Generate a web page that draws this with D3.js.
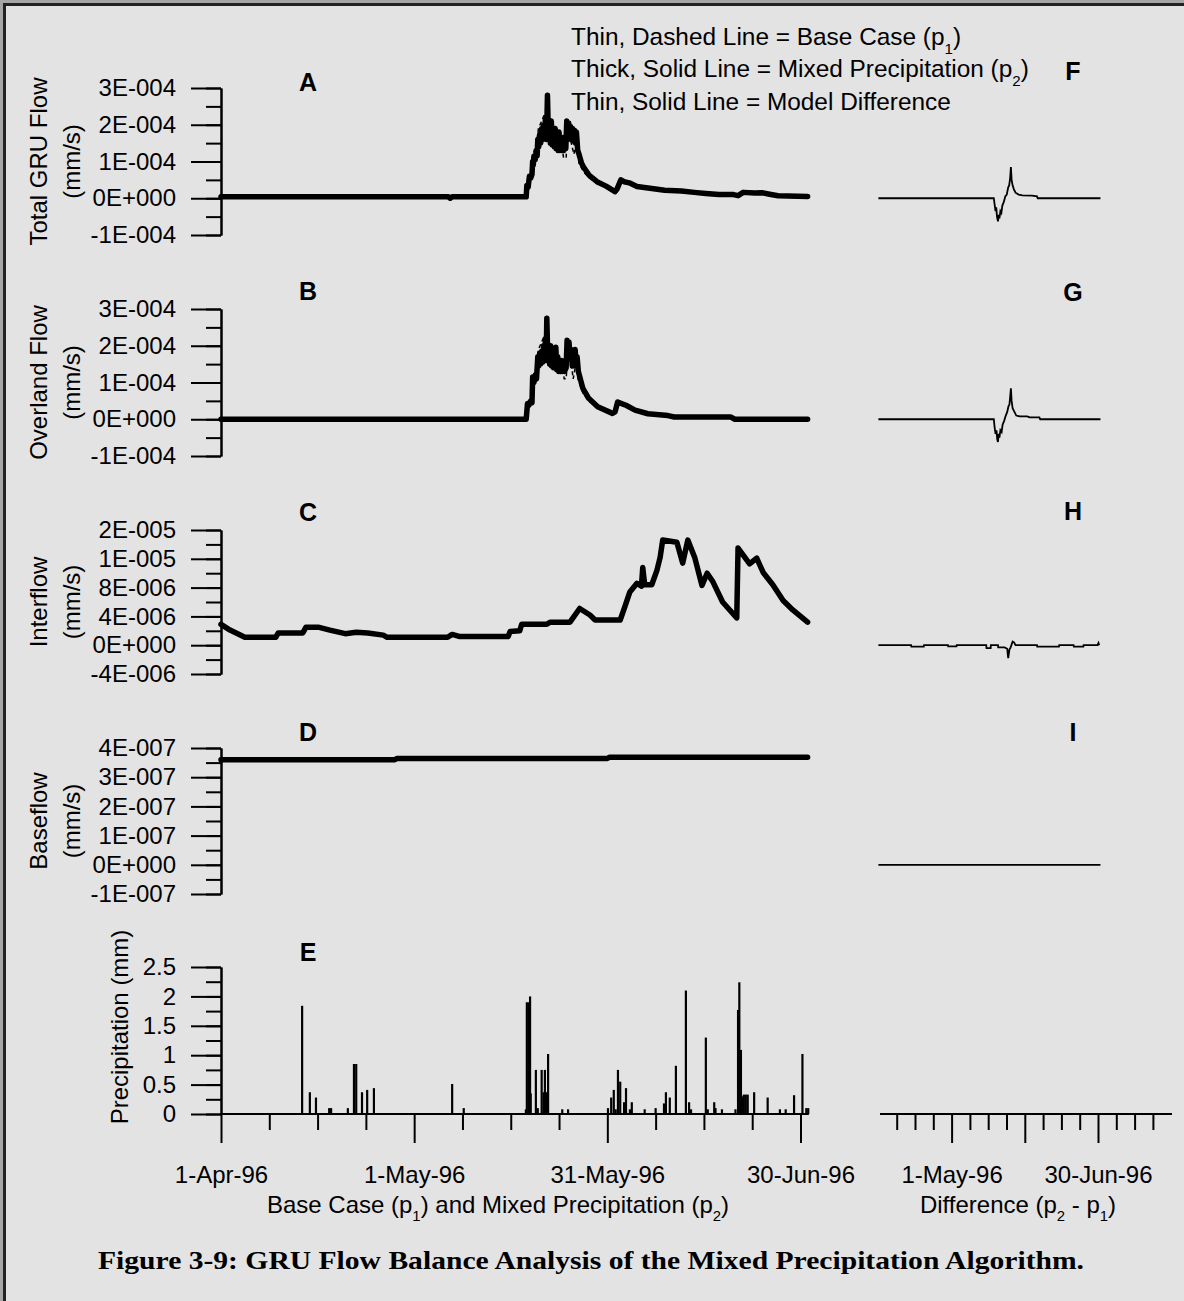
<!DOCTYPE html>
<html>
<head>
<meta charset="utf-8">
<script src="https://cdn.jsdelivr.net/npm/d3@7"></script>
<style>
  html, body { margin: 0; padding: 0; background: #e3e3e3; }
  svg { display: block; }
  text { fill: #000; }
</style>
</head>
<body>
<svg id="chart" width="1184" height="1301"></svg>
<script>
// ---- Series: [day since 1-Apr-96, value] ----
// Total GRU flow (mm/s)
const totalFlowMixed = [[0,0.04e-4],[35.3,0.04e-4],[35.6,0.0],[35.9,0.04e-4],[47.4,0.04e-4],[47.5,0.35e-4],[47.7,0.3e-4],[47.9,0.6e-4],[48.1,0.55e-4],[48.3,0.65e-4],[48.4,1.0e-4],[48.5,0.9e-4],[48.6,1.15e-4],[48.8,1.05e-4],[49.0,1.3e-4],[49.1,1.15e-4],[49.2,1.6e-4],[49.35,1.4e-4],[49.5,1.75e-4],[49.65,1.5e-4],[49.8,1.9e-4],[49.95,1.6e-4],[50.1,2.0e-4],[50.25,1.7e-4],[50.4,2.2e-4],[50.55,1.6e-4],[50.7,2.8e-4],[50.85,1.7e-4],[51.0,2.0e-4],[51.15,1.5e-4],[51.3,2.1e-4],[51.45,1.45e-4],[51.6,1.8e-4],[51.75,1.4e-4],[51.9,1.9e-4],[52.05,1.35e-4],[52.2,1.7e-4],[52.35,1.3e-4],[52.5,1.8e-4],[52.65,1.3e-4],[52.8,1.6e-4],[52.95,1.3e-4],[53.1,1.65e-4],[53.25,1.3e-4],[53.4,1.5e-4],[53.55,1.35e-4],[53.7,2.1e-4],[53.85,1.6e-4],[54.0,2.05e-4],[54.15,1.7e-4],[54.3,1.95e-4],[54.45,1.6e-4],[54.6,1.9e-4],[54.75,1.55e-4],[54.9,1.85e-4],[55.05,1.5e-4],[55.2,1.8e-4],[55.4,1.3e-4],[55.6,1.2e-4],[56.0,0.95e-4],[56.3,0.85e-4],[57.2,0.62e-4],[58.4,0.45e-4],[59.8,0.33e-4],[61.2,0.18e-4],[61.5,0.25e-4],[62.1,0.5e-4],[62.6,0.45e-4],[63.4,0.42e-4],[64.6,0.32e-4],[66.6,0.27e-4],[68.9,0.22e-4],[71.5,0.2e-4],[73.5,0.16e-4],[75.3,0.13e-4],[77.3,0.1e-4],[79.6,0.1e-4],[80.3,0.07e-4],[81.1,0.16e-4],[82.9,0.14e-4],[84,0.15e-4],[85.2,0.11e-4],[86.5,0.07e-4],[91.1,0.05e-4]];
const totalFlowBase = [[0,0.04e-4],[47.4,0.04e-4],[47.5,0.2e-4],[47.9,0.5e-4],[48.3,0.9e-4],[48.5,1.2e-4],[49.1,1.6e-4],[49.3,1.9e-4],[49.8,2.1e-4],[50.3,2.3e-4],[50.5,2.0e-4],[50.7,2.75e-4],[50.9,2.0e-4],[51.2,2.1e-4],[51.5,1.7e-4],[51.9,1.9e-4],[52.3,1.5e-4],[52.8,1.6e-4],[53.2,1.1e-4],[53.6,1.1e-4],[53.8,1.8e-4],[54.4,1.5e-4],[54.8,1.2e-4],[55.2,1.5e-4],[55.6,0.95e-4],[56.3,0.72e-4],[57.2,0.55e-4],[58.4,0.4e-4],[59.8,0.3e-4],[61.2,0.15e-4],[61.5,0.22e-4],[62.1,0.45e-4],[62.6,0.42e-4],[63.4,0.4e-4],[64.6,0.3e-4],[66.6,0.26e-4],[68.9,0.22e-4],[71.5,0.2e-4],[73.5,0.16e-4],[75.3,0.13e-4],[77.3,0.1e-4],[79.6,0.1e-4],[80.3,0.07e-4],[81.1,0.16e-4],[82.9,0.14e-4],[84,0.15e-4],[85.2,0.11e-4],[86.5,0.07e-4],[91.1,0.05e-4]];
const totalFlowDiff = [[0,0],[47.3,0],[47.6,-0.15e-4],[48.0,-0.35e-4],[48.3,-0.25e-4],[48.6,-0.5e-4],[49.0,-0.63e-4],[49.3,-0.45e-4],[49.6,-0.55e-4],[50.0,-0.35e-4],[50.4,-0.4e-4],[50.8,-0.2e-4],[51.4,-0.1e-4],[52.0,0.05e-4],[52.6,0.1e-4],[53.2,0.3e-4],[53.6,0.35e-4],[54.0,0.55e-4],[54.3,0.85e-4],[54.6,0.5e-4],[55.0,0.35e-4],[55.5,0.25e-4],[56.2,0.15e-4],[57.5,0.1e-4],[59,0.08e-4],[63,0.07e-4],[65,0.05e-4],[65.3,0],[91,0]];

// Overland flow (mm/s)
const overlandMixed = [[0,0],[47.4,0],[47.6,0.43e-4],[47.8,0.38e-4],[48.1,0.5e-4],[48.3,0.45e-4],[48.4,1.15e-4],[48.6,1.0e-4],[48.8,1.2e-4],[49.0,1.1e-4],[49.2,1.7e-4],[49.35,1.45e-4],[49.5,1.8e-4],[49.65,1.5e-4],[49.8,1.85e-4],[49.95,1.55e-4],[50.1,2.0e-4],[50.25,1.7e-4],[50.4,2.2e-4],[50.5,1.6e-4],[50.6,2.75e-4],[50.75,1.7e-4],[50.9,1.95e-4],[51.05,1.5e-4],[51.2,2.0e-4],[51.35,1.45e-4],[51.5,1.8e-4],[51.65,1.4e-4],[51.8,1.7e-4],[52.0,1.96e-4],[52.15,1.35e-4],[52.3,1.7e-4],[52.45,1.3e-4],[52.6,1.6e-4],[52.75,1.3e-4],[52.9,1.6e-4],[53.05,1.3e-4],[53.2,1.5e-4],[53.35,1.3e-4],[53.6,1.4e-4],[53.75,2.15e-4],[53.9,1.7e-4],[54.05,2.1e-4],[54.2,1.7e-4],[54.4,1.9e-4],[54.55,1.45e-4],[54.7,1.85e-4],[54.85,1.45e-4],[55.0,1.9e-4],[55.15,1.45e-4],[55.3,1.7e-4],[55.5,1.3e-4],[56.2,0.84e-4],[57.1,0.57e-4],[58.5,0.34e-4],[60.8,0.16e-4],[61.2,0.2e-4],[61.6,0.47e-4],[62.3,0.42e-4],[62.9,0.38e-4],[64.3,0.25e-4],[66.3,0.15e-4],[69.4,0.1e-4],[70.4,0.06e-4],[79.2,0.06e-4],[79.8,0],[91.1,0]];
const overlandBase = [[0,0],[47.4,0],[47.6,0.25e-4],[48.1,0.45e-4],[48.4,0.9e-4],[49.1,1.5e-4],[49.3,1.9e-4],[49.8,2.1e-4],[50.3,2.3e-4],[50.5,2.0e-4],[50.6,2.7e-4],[50.9,1.9e-4],[51.2,2.0e-4],[51.6,1.6e-4],[52.0,1.9e-4],[52.4,1.3e-4],[53.0,1.5e-4],[53.3,1.1e-4],[53.6,1.1e-4],[53.9,1.8e-4],[54.4,1.5e-4],[54.7,1.1e-4],[55.1,1.5e-4],[55.5,1.05e-4],[56.2,0.72e-4],[57.1,0.5e-4],[58.5,0.3e-4],[60.8,0.15e-4],[61.2,0.18e-4],[61.6,0.43e-4],[62.3,0.4e-4],[62.9,0.36e-4],[64.3,0.24e-4],[66.3,0.15e-4],[69.4,0.1e-4],[70.4,0.06e-4],[79.2,0.06e-4],[79.8,0],[91.1,0]];
const overlandDiff = [[0,0],[47.3,0],[47.6,-0.2e-4],[48.0,-0.4e-4],[48.4,-0.3e-4],[48.7,-0.55e-4],[49.0,-0.62e-4],[49.3,-0.4e-4],[49.6,-0.5e-4],[50.0,-0.3e-4],[50.5,-0.35e-4],[50.9,-0.15e-4],[51.5,-0.05e-4],[52.2,0.1e-4],[52.8,0.2e-4],[53.3,0.35e-4],[53.7,0.4e-4],[54.0,0.6e-4],[54.3,0.84e-4],[54.6,0.5e-4],[55.0,0.3e-4],[55.6,0.22e-4],[56.5,0.1e-4],[58,0.08e-4],[61,0.08e-4],[62,0.05e-4],[66,0.05e-4],[66.3,0],[91,0]];

// Interflow (mm/s)
const interflowMixed = [[0,2.9e-6],[1.4,2.1e-6],[3.7,1.1e-6],[8.5,1.1e-6],[8.9,1.7e-6],[12.7,1.7e-6],[13.2,2.5e-6],[15.1,2.5e-6],[16.9,2.1e-6],[19.3,1.6e-6],[21,1.8e-6],[22.8,1.7e-6],[25.2,1.4e-6],[25.8,1.1e-6],[35.2,1.1e-6],[35.9,1.5e-6],[37.1,1.2e-6],[44.6,1.2e-6],[44.9,1.9e-6],[46.4,2.0e-6],[46.7,2.9e-6],[50.6,2.9e-6],[51.1,3.2e-6],[54.2,3.2e-6],[55.7,5.1e-6],[57.3,4.2e-6],[58.1,3.5e-6],[62,3.5e-6],[62.7,5.3e-6],[63.5,7.4e-6],[64.6,8.6e-6],[65.3,8.2e-6],[65.5,10.8e-6],[65.8,8.4e-6],[66.9,8.4e-6],[67.7,10.4e-6],[68.2,12.2e-6],[68.6,14.6e-6],[70.8,14.3e-6],[71.7,11.4e-6],[72.5,14.6e-6],[73.6,12.1e-6],[74.7,8.3e-6],[75.5,10.0e-6],[76.4,8.8e-6],[77.9,6.0e-6],[80.1,3.8e-6],[80.3,13.5e-6],[81.1,12.5e-6],[82.1,11.3e-6],[83.2,12.1e-6],[84.2,10.1e-6],[85.7,8.4e-6],[87.3,6.2e-6],[88.8,4.9e-6],[91.1,3.2e-6]];
const interflowBase = [[0,2.9e-6],[1.4,2.1e-6],[3.7,1.1e-6],[8.5,1.1e-6],[8.9,1.7e-6],[12.7,1.7e-6],[13.2,2.6e-6],[15.1,2.6e-6],[16.9,2.1e-6],[19.3,1.6e-6],[21,1.8e-6],[22.8,1.7e-6],[25.2,1.4e-6],[25.8,1.1e-6],[35.2,1.1e-6],[35.9,1.5e-6],[37.1,1.2e-6],[44.6,1.2e-6],[44.9,2.1e-6],[46.4,2.2e-6],[46.7,2.9e-6],[50.6,2.9e-6],[51.1,3.3e-6],[54.2,3.3e-6],[55.7,5.0e-6],[57.3,4.2e-6],[58.1,3.5e-6],[62,3.5e-6],[62.7,5.3e-6],[63.5,7.4e-6],[64.6,8.6e-6],[65.3,8.2e-6],[65.5,10.8e-6],[65.8,8.4e-6],[66.9,8.4e-6],[67.7,10.4e-6],[68.2,12.2e-6],[68.6,14.6e-6],[70.8,14.3e-6],[71.7,11.4e-6],[72.5,14.6e-6],[73.6,12.1e-6],[74.7,8.3e-6],[75.5,10.0e-6],[76.4,8.8e-6],[77.9,6.0e-6],[80.1,3.8e-6],[80.3,13.5e-6],[81.1,12.5e-6],[82.1,11.3e-6],[83.2,12.1e-6],[84.2,10.1e-6],[85.7,8.4e-6],[87.3,6.2e-6],[88.8,4.9e-6],[91.1,3.2e-6]];
const interflowDiff = [[0,0],[13.4,0],[13.5,-0.2e-6],[18.6,-0.2e-6],[18.7,0],[28.5,0],[28.6,-0.15e-6],[32,-0.15e-6],[32.1,0],[44.2,0],[44.3,-0.4e-6],[46,-0.4e-6],[46.1,0],[49,0],[49.1,-0.3e-6],[51.7,-0.3e-6],[52.8,-0.5e-6],[53.2,-1.8e-6],[53.7,-0.6e-6],[54.2,-0.3e-6],[55.0,0.5e-6],[55.6,0.4e-6],[56.2,0],[65,0],[65.1,-0.2e-6],[74,-0.2e-6],[74.1,0],[80,0],[80.1,-0.2e-6],[84,-0.2e-6],[84.1,0],[89.8,0],[90.2,0.3e-6],[90.5,0]];

// Baseflow (mm/s)
const baseflowMixed = [[0,3.6e-7],[27,3.6e-7],[27.3,3.64e-7],[60,3.64e-7],[60.3,3.68e-7],[91.1,3.68e-7]];
const baseflowBase = [[0,3.6e-7],[27,3.6e-7],[27.3,3.64e-7],[60,3.64e-7],[60.3,3.68e-7],[91.1,3.68e-7]];
const baseflowDiff = [[0,0],[91,0]];

// Precipitation (mm)
const precipitation = [[12.6,1.84],[13.8,0.37],[14.75,0.28],[16.8,0.1],[17.1,0.1],[19.7,0.1],[20.65,0.85],[21.0,0.85],[21.9,0.37],[22.7,0.41],[23.75,0.44],[35.9,0.51],[37.7,0.1],[47.35,0.08],[47.5,1.9],[47.8,1.9],[48.0,2.0],[48.1,0.35],[48.9,0.75],[49.2,0.1],[49.8,0.75],[50.1,0.37],[50.3,0.75],[50.5,0.37],[50.8,1.02],[53.0,0.08],[53.9,0.08],[60.1,0.1],[60.6,0.28],[61.0,0.41],[61.3,0.08],[61.65,0.75],[62.0,0.55],[62.6,0.2],[62.9,0.44],[63.5,0.08],[63.8,0.2],[65.8,0.08],[67.5,0.1],[68.8,0.18],[69.1,0.37],[69.7,0.28],[70.65,0.82],[72.2,2.1],[72.7,0.2],[73.0,0.08],[75.3,1.3],[75.6,0.08],[76.6,0.2],[76.8,0.1],[77.8,0.08],[79.9,0.08],[80.3,1.77],[80.5,2.24],[80.75,1.09],[81.0,0.3],[81.2,0.33],[81.5,0.33],[81.8,0.33],[82.8,0.37],[84.9,0.28],[86.8,0.08],[87.7,0.08],[89.0,0.32],[90.3,1.02],[90.9,0.1],[91.2,0.1]];

// ---- Axis ticks ----
const flowTicks = [-1e-4, 0, 1e-4, 2e-4, 3e-4];
const interflowTicks = [-4e-6, 0, 4e-6, 8e-6, 1.2e-5, 1.6e-5];
const baseflowTicks = [-1e-7, 0, 1e-7, 2e-7, 3e-7, 4e-7];
const precipTicks = [0, 0.5, 1, 1.5, 2, 2.5];
const dateMajorDays = [0, 30, 60, 90];
const dateMinorStep = 7.5;
const diffLabelDays = [30, 90];
const panelLetters = ["A", "B", "C", "D", "E", "F", "G", "H", "I"];

// ---- Layout ----
const SANS = "'Liberation Sans', Arial, Helvetica, sans-serif";
const SERIF = "'Liberation Serif', 'Times New Roman', Times, serif";
const FS = 24;            // general label size
const svg = d3.select("#chart").style("font-family", SANS);
const W = 1184, H = 1301;
svg.append("rect").attr("width", W).attr("height", H).attr("fill", "#e3e3e3");
// page frame (top and left edges)
svg.append("rect").attr("x", 0).attr("y", 0).attr("width", W).attr("height", 3).attr("fill", "#a6a6a6");
svg.append("rect").attr("x", 0).attr("y", 0).attr("width", 3).attr("height", H).attr("fill", "#a6a6a6");
svg.append("rect").attr("x", 3).attr("y", 3).attr("width", W - 3).attr("height", 3).attr("fill", "#222");
svg.append("rect").attr("x", 3).attr("y", 3).attr("width", 3).attr("height", H - 3).attr("fill", "#222");

const start = Date.UTC(1996, 3, 1);
const fmtDate = d3.utcFormat("%-d-%b-%y");
const dayLabel = d => fmtDate(new Date(start + d * 864e5));

const xMain = d3.scaleLinear().domain([0, 90]).range([221, 800.5]);
const xDiff = d3.scaleLinear().domain([0, 90]).range([878.4, 1098]);

function sci(v) {
  if (Math.abs(v) < 1e-15) return "0E+000";
  let e = Math.floor(Math.log10(Math.abs(v)) + 1e-9);
  let m = Math.round(v / Math.pow(10, e));
  if (Math.abs(m) >= 10) { m = m / 10; e += 1; }
  const sign = e < 0 ? "-" : "+";
  return m + "E" + sign + String(Math.abs(e)).padStart(3, "0");
}

const panels = [
  { titles: ["Total GRU Flow", "(mm/s)"], ticks: flowTicks, minor: 0.5e-4, top: 88, bottom: 235,
    mixed: totalFlowMixed, base: totalFlowBase, diff: totalFlowDiff, fmt: sci },
  { titles: ["Overland Flow", "(mm/s)"], ticks: flowTicks, minor: 0.5e-4, top: 309, bottom: 456,
    mixed: overlandMixed, base: overlandBase, diff: overlandDiff, fmt: sci },
  { titles: ["Interflow", "(mm/s)"], ticks: interflowTicks, minor: 2e-6, top: 530, bottom: 674,
    mixed: interflowMixed, base: interflowBase, diff: interflowDiff, fmt: sci },
  { titles: ["Baseflow", "(mm/s)"], ticks: baseflowTicks, minor: 0.5e-7, top: 748, bottom: 894,
    mixed: baseflowMixed, base: baseflowBase, diff: baseflowDiff, fmt: sci }
];

// letter baselines
const letterY = [91, 300, 521, 741, 961];
const rightLetterY = [80, 301, 520, 741];

function minorValues(ticks, step) {
  const lo = ticks[0], hi = ticks[ticks.length - 1];
  const out = [];
  for (let v = lo; v <= hi + step / 2; v += step) out.push(+v.toPrecision(6));
  return out;
}

function styleAxis(g, fontSize) {
  g.selectAll("path, line").attr("stroke", "#000").attr("stroke-width", 2);
  g.selectAll("text").attr("font-size", fontSize).attr("fill", "#000").attr("font-family", null);
}

function yTitle(lines, cx, cy, sz) {
  const g = svg.append("g");
  lines.forEach((t, i) => {
    g.append("text")
      .attr("transform", `translate(${cx[i]},${cy}) rotate(-90)`)
      .attr("text-anchor", "middle").attr("dominant-baseline", "central")
      .attr("font-size", sz).text(t);
  });
}

function letter(x, y, t) {
  svg.append("text").attr("x", x).attr("y", y).attr("text-anchor", "middle")
    .attr("font-weight", "bold").attr("font-size", 25).text(t);
}

function yAxes(y, ticks, minorStep, fmt) {
  svg.append("g").attr("transform", "translate(221,0)")
    .call(d3.axisLeft(y).tickValues(minorValues(ticks, minorStep)).tickSize(15).tickSizeOuter(0).tickFormat(""))
    .call(g => styleAxis(g, FS));
  svg.append("g").attr("transform", "translate(221,0)")
    .call(d3.axisLeft(y).tickValues(ticks).tickSize(30).tickSizeOuter(0).tickPadding(15).tickFormat(fmt))
    .call(g => styleAxis(g, FS));
}

const lineGen = (x, y) => d3.line().x(d => x(d[0])).y(d => y(d[1]));

panels.forEach((p, i) => {
  const y = d3.scaleLinear().domain([p.ticks[0], p.ticks[p.ticks.length - 1]]).range([p.bottom, p.top]);
  yAxes(y, p.ticks, p.minor, p.fmt);
  yTitle(p.titles, [38, 71], (p.top + p.bottom) / 2, FS);

  // base case: thin dashed
  svg.append("path").datum(p.base).attr("d", lineGen(xMain, y))
    .attr("fill", "none").attr("stroke", "#000").attr("stroke-width", 1.5).attr("stroke-dasharray", "4,3");
  // mixed precipitation: thick solid
  svg.append("path").datum(p.mixed).attr("d", lineGen(xMain, y))
    .attr("fill", "none").attr("stroke", "#000").attr("stroke-width", 5.5)
    .attr("stroke-linejoin", "round").attr("stroke-linecap", "round");
  // model difference: thin solid
  svg.append("path").datum(p.diff).attr("d", lineGen(xDiff, y))
    .attr("fill", "none").attr("stroke", "#000").attr("stroke-width", 1.8);

  letter(308, letterY[i], panelLetters[i]);
  letter(1073, rightLetterY[i], panelLetters[i + 5]);
});

// ---- Panel E: precipitation ----
const yP = d3.scaleLinear().domain([0, 2.5]).range([1114, 967]);
yAxes(yP, precipTicks, 0.25, d3.format(""));
yTitle(["Precipitation (mm)"], [119], 1027, FS);
letter(308, letterY[4], panelLetters[4]);

svg.append("g").selectAll("line").data(precipitation).join("line")
  .attr("x1", d => xMain(d[0])).attr("x2", d => xMain(d[0]))
  .attr("y1", yP(0)).attr("y2", d => yP(d[1]))
  .attr("stroke", "#000").attr("stroke-width", 2.2);

// main date axis
const mainMinor = d3.range(0, 90 + 0.01, dateMinorStep).filter(d => !dateMajorDays.includes(d));
const xAxisMain = svg.append("g").attr("transform", "translate(0,1114)");
xAxisMain.append("line").attr("x1", 221).attr("x2", xMain(91.3)).attr("y1", 0).attr("y2", 0)
  .attr("stroke", "#000").attr("stroke-width", 2);
xAxisMain.append("g")
  .call(d3.axisBottom(xMain).tickValues(mainMinor).tickSize(16).tickSizeOuter(0).tickFormat(""))
  .call(g => { g.select(".domain").remove(); styleAxis(g, FS); });
xAxisMain.append("g")
  .call(d3.axisBottom(xMain).tickValues(dateMajorDays).tickSize(29).tickSizeOuter(0).tickPadding(23).tickFormat(dayLabel))
  .call(g => { g.select(".domain").remove(); styleAxis(g, FS); });

// difference date axis
const diffMinor = d3.range(dateMinorStep, 120, dateMinorStep).filter(d => !dateMajorDays.includes(d));
const xAxisDiff = svg.append("g").attr("transform", "translate(0,1114)");
xAxisDiff.append("line").attr("x1", 880).attr("x2", 1172).attr("y1", 0).attr("y2", 0)
  .attr("stroke", "#000").attr("stroke-width", 2);
xAxisDiff.append("g")
  .call(d3.axisBottom(xDiff).tickValues(diffMinor).tickSize(16).tickSizeOuter(0).tickFormat(""))
  .call(g => { g.select(".domain").remove(); styleAxis(g, FS); });
xAxisDiff.append("g")
  .call(d3.axisBottom(xDiff).tickValues([30, 60, 90]).tickSize(29).tickSizeOuter(0).tickPadding(23)
    .tickFormat(d => diffLabelDays.includes(d) ? dayLabel(d) : ""))
  .call(g => { g.select(".domain").remove(); styleAxis(g, FS); });

// text with subscripts
function subText(parent, x, y, parts, sz, anchor) {
  const t = parent.append("text").attr("x", x).attr("y", y).attr("text-anchor", anchor || "middle")
    .attr("font-size", sz);
  parts.forEach(([s, sub]) => {
    const ts = t.append("tspan").text(s);
    if (sub) ts.attr("font-size", sz * 0.62).attr("baseline-shift", "sub");
  });
  return t;
}
subText(svg, 498, 1213, [["Base Case (p"], ["1", true], [") and Mixed Precipitation (p"], ["2", true], [")"]], FS);
subText(svg, 1018, 1213, [["Difference (p"], ["2", true], [" - p"], ["1", true], [")"]], FS);

// legend
subText(svg, 571, 45, [["Thin, Dashed Line = Base Case (p"], ["1", true], [")"]], 24.4, "start");
subText(svg, 571, 77, [["Thick, Solid Line = Mixed Precipitation (p"], ["2", true], [")"]], 24.4, "start");
subText(svg, 571, 110, [["Thin, Solid Line = Model Difference"]], 24.4, "start");

// caption
svg.append("text").attr("x", 591).attr("y", 1269).attr("text-anchor", "middle")
  .style("font-family", SERIF).attr("font-weight", "bold")
  .attr("font-size", 25).attr("textLength", 986).attr("lengthAdjust", "spacingAndGlyphs")
  .text("Figure 3-9: GRU Flow Balance Analysis of the Mixed Precipitation Algorithm.");
</script>
</body>
</html>
